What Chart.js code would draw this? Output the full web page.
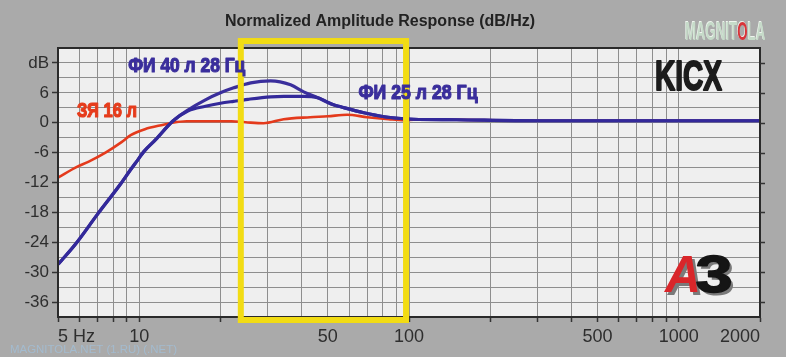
<!DOCTYPE html>
<html><head><meta charset="utf-8">
<script src="https://cdn.jsdelivr.net/npm/chart.js@4.4.1/dist/chart.umd.min.js"></script>
<style>html,body{margin:0;padding:0;background:#aaaaaa;}#wrap{width:786px;height:357px;}</style>
</head><body><div id="wrap"><canvas id="c" width="786" height="357"></canvas></div>
<script>
// ---- data ----
const chartTitle = 'Normalized Amplitude Response (dB/Hz)';
const xTickValues = [5,6,7,8,9,10,20,30,40,50,60,70,80,90,100,200,300,400,500,600,700,800,900,1000,2000];
const xTickLabels = {'5':'5 Hz','10':'10','50':'50','100':'100','500':'500','1000':'1000','2000':'2000'};
const yTickValues = [-39,-36,-33,-30,-27,-24,-21,-18,-15,-12,-9,-6,-3,0,3,6,9,12,15];
const yTickLabels = {'12':'dB','6':'6','0':'0','-6':'-6','-12':'-12','-18':'-18','-24':'-24','-30':'-30','-36':'-36'};

const seriesNames = ['ФИ 25 л 28 Гц','ФИ 40 л 28 Гц','ЗЯ 16 л'];

const blue25Freq = [5,5.2,5.8,7,8.5,9.3,9.9,10.4,11.5,13.3,15.2,17.6,20,22.4,25.3,30.7,34.4,40.7,45.9,52.5,55.8,68,81,96,104,150,300,1000,2000];
const blue25Db   = [-28.4,-27.4,-24.4,-18.4,-12.4,-9.4,-7.4,-5.8,-3.4,0.3,2.4,3.3,3.9,4.3,4.7,5.2,5.3,5.3,5.0,3.6,3.2,2.0,1.2,0.8,0.7,0.6,0.4,0.4,0.4];

const blue40Freq = [5,5.2,5.8,7,8.5,9.3,9.9,10.4,11.5,13.3,15.2,17.6,20,22.4,25.9,30.7,36.4,40.7,45.9,52.5,55.8,68,81,96,104,150,300,1000,2000];
const blue40Db   = [-28.4,-27.4,-24.4,-18.4,-12.4,-9.4,-7.4,-5.8,-3.4,0.3,2.6,4.6,6.0,7.0,8.0,8.4,7.6,6.2,5.0,3.6,3.2,2.0,1.2,0.8,0.7,0.6,0.4,0.4,0.4];

const redFreq = [5,5.9,6.5,7.5,8.6,9.3,10.5,12.3,13.3,15,18,22,24.8,28.9,34.3,43,50,59,70,84,96,104,150,300,1000,2000];
const redDb   = [-11,-8.8,-7.8,-6,-3.9,-2.5,-1.3,-0.4,0,0.3,0.3,0.3,0.1,-0.1,0.7,1.1,1.3,1.6,1.1,0.7,0.5,0.6,0.6,0.4,0.4,0.4];

// highlighted band (yellow frame)
const bandFreq = [23.8, 97.5];
const bandDb = [16.4, -39.6];

// in-chart annotations
const noteTexts = ['ФИ 40 л 28 Гц','ФИ 25 л 28 Гц','ЗЯ 16 л'];
const noteFreq = [15, 108, 7.6];
const noteDb = [11.7, 6.3, 2.6];

const brandText = 'KICX';
const brandFreq = 1087, brandDb = 9.6;
const logoText = ['A','3'];
const logoFreq = 1188, logoDb = -30.3;
const siteText = 'MAGNITOLA';
const watermarkText = 'MAGNITOLA.NET (1.RU) (.NET)';

// ---- helpers ----
const pts = (fs, ds) => fs.map((f, i) => ({x: f, y: ds[i]}));
const HEAVY = '"Liberation Sans", Arial, sans-serif';

function fitText(ctx, text, cx, cy, font, color, w, capH, opts) {
  opts = opts || {};
  ctx.save();
  ctx.font = font;
  const m = ctx.measureText(text).width;
  ctx.translate(cx, cy + capH / 2);
  ctx.scale(w / m, 1);
  ctx.textAlign = 'center';
  ctx.textBaseline = 'alphabetic';
  ctx.lineJoin = 'round';
  if (opts.shadow) {
    ctx.fillStyle = opts.shadow.color;
    ctx.fillText(text, opts.shadow.dx * m / w, opts.shadow.dy);
  }
  ctx.fillStyle = color;
  ctx.fillText(text, 0, 0);
  if (opts.stroke) {
    ctx.strokeStyle = color;
    ctx.lineWidth = opts.stroke;
    ctx.strokeText(text, 0, 0);
  }
  ctx.restore();
}

const decor = {
  id: 'decor',
  beforeDraw(chart) {
    const {ctx, chartArea: a} = chart;
    ctx.save();
    ctx.fillStyle = '#efefef';
    ctx.fillRect(a.left, a.top, a.right - a.left, a.bottom - a.top);
    ctx.restore();
  },
  afterDatasetsDraw(chart) {
    const {ctx, chartArea: a, scales} = chart;
    const xs = scales.x, ys = scales.y;
    ctx.save();
    // frame
    ctx.strokeStyle = '#2a2a2a';
    ctx.lineWidth = 2;
    ctx.strokeRect(a.left, a.top, a.right - a.left, a.bottom - a.top);
    // right-side ticks
    ctx.lineWidth = 1.5;
    ctx.strokeStyle = '#333';
    yTickValues.forEach(v => {
      if (yTickLabels[String(v)] === undefined) return;
      const y = Math.round(ys.getPixelForValue(v)) + 0.5;
      ctx.beginPath(); ctx.moveTo(a.right, y); ctx.lineTo(a.right + 5, y); ctx.stroke();
    });
    // yellow band frame
    const x0 = xs.getPixelForValue(bandFreq[0]), x1 = xs.getPixelForValue(bandFreq[1]);
    const y0 = ys.getPixelForValue(bandDb[0]), y1 = ys.getPixelForValue(bandDb[1]);
    ctx.strokeStyle = '#f2dc14';
    ctx.lineWidth = 6;
    ctx.strokeRect(x0, y0, x1 - x0, y1 - y0);
    ctx.restore();

    // annotations
    const noteCol = ['#3a2e9c', '#3a2e9c', '#e63c1c'];
    const noteW = [117, 119, 60];
    noteTexts.forEach((t, i) => {
      fitText(ctx, t, xs.getPixelForValue(noteFreq[i]), ys.getPixelForValue(noteDb[i]),
        'bold 21px ' + HEAVY, noteCol[i], noteW[i], 15, {stroke: 1.2});
    });
    // KICX
    fitText(ctx, brandText, xs.getPixelForValue(brandFreq), ys.getPixelForValue(brandDb),
      'bold 42px ' + HEAVY, '#1c1c1c', 67, 30, {stroke: 2});
    // A3 logo
    const lx = xs.getPixelForValue(logoFreq), ly = ys.getPixelForValue(logoDb);
    fitText(ctx, logoText[0], lx - 16, ly, 'italic bold 52px ' + HEAVY, '#d9262a', 36, 37, {shadow: {color:'#7a7a7a', dx:3, dy:3}});
    fitText(ctx, logoText[1], lx + 15, ly, 'bold 52px ' + HEAVY, '#151515', 37, 37, {shadow: {color:'#7a7a7a', dx:3, dy:3}, stroke: 1.5});

    // site logo (top right)
    ctx.save();
    ctx.font = 'bold 25px ' + HEAVY;
    const parts = ['MAGNIT', 'O', 'LA'];
    const cols = ['#c6dbc9', '#d8343a', '#c6dbc9'];
    const total = ctx.measureText(siteText).width;
    const sc = 80 / total;
    let px = a.right - 75;
    const py = 40;
    parts.forEach((p, i) => {
      const w = ctx.measureText(p).width;
      ctx.save();
      ctx.translate(px, py);
      ctx.scale(sc, 1);
      ctx.fillStyle = '#eef5ee';
      ctx.fillText(p, -1, -1);
      ctx.fillStyle = cols[i];
      ctx.fillText(p, 0, 0);
      ctx.restore();
      px += w * sc;
    });
    ctx.restore();
    // watermark
    ctx.save();
    ctx.font = '11px ' + HEAVY;
    const ww = ctx.measureText(watermarkText).width;
    ctx.translate(10, 353);
    ctx.scale(167 / ww, 1);
    ctx.fillStyle = '#a3bbcf';
    ctx.fillText(watermarkText, 0, 0);
    ctx.restore();
  }
};

const gridColor = '#8e8e8e';

new Chart(document.getElementById('c'), {
  type: 'line',
  data: {
    datasets: [
      {label: seriesNames[0], data: pts(blue25Freq, blue25Db), borderColor: '#33299a', borderWidth: 3.2, pointRadius: 0, cubicInterpolationMode: 'monotone', fill: false},
      {label: seriesNames[1], data: pts(blue40Freq, blue40Db), borderColor: '#3a2e9c', borderWidth: 3.2, pointRadius: 0, cubicInterpolationMode: 'monotone', fill: false},
      {label: seriesNames[2], data: pts(redFreq, redDb), borderColor: '#e43a1c', borderWidth: 2.6, pointRadius: 0, cubicInterpolationMode: 'monotone', fill: false}
    ]
  },
  options: {
    responsive: false,
    animation: false,
    devicePixelRatio: 1,
    layout: {padding: {left: 0, right: 26, top: 0, bottom: 0}},
    plugins: {
      legend: {display: false},
      tooltip: {enabled: false},
      title: {
        display: true, text: chartTitle, color: '#222',
        font: {family: HEAVY, size: 16, weight: 'bold', lineHeight: '19px'},
        padding: {top: 12, bottom: 17}
      }
    },
    scales: {
      x: {
        type: 'logarithmic', min: 5, max: 2000,
        afterBuildTicks: s => { s.ticks = xTickValues.map(v => ({value: v})); },
        afterFit: s => { s.height = 40; },
        grid: {color: gridColor, lineWidth: 1, tickLength: 5, tickColor: '#333', tickWidth: 1.5},
        border: {display: true, color: '#2a2a2a', width: 2},
        ticks: {
          autoSkip: false, maxRotation: 0, align: 'inner', padding: 4, color: '#2e2e2e',
          font: {family: HEAVY, size: 18},
          callback: v => xTickLabels[String(v)] || ''
        }
      },
      y: {
        min: -39, max: 15,
        afterBuildTicks: s => { s.ticks = yTickValues.map(v => ({value: v})); },
        afterFit: s => { s.width = 58; },
        grid: {color: gridColor, lineWidth: 1, tickLength: 6,
          tickColor: c => (c.tick && yTickLabels[String(c.tick.value)] !== undefined) ? '#333' : 'rgba(0,0,0,0)', tickWidth: 1.5},
        border: {display: true, color: '#2a2a2a', width: 2},
        ticks: {
          autoSkip: false, padding: 3, color: '#2e2e2e',
          font: {family: HEAVY, size: 17},
          callback: v => yTickLabels[String(v)] || ''
        }
      }
    }
  },
  plugins: [decor]
});
</script>
</body></html>
